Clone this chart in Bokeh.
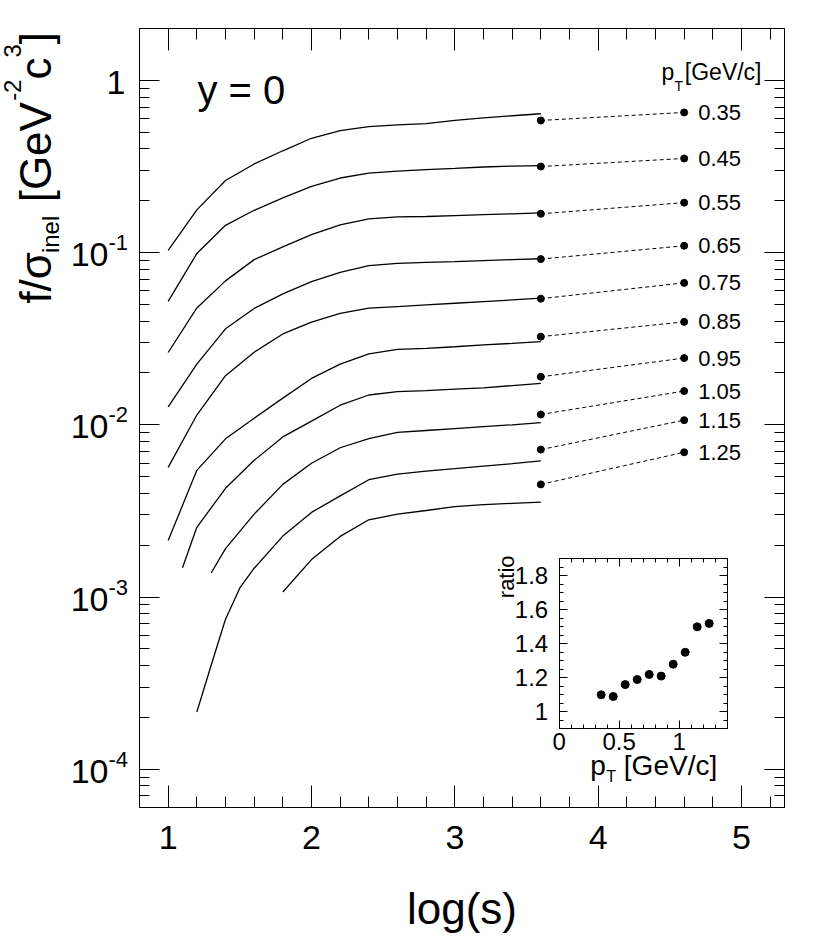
import math
from bokeh.plotting import figure
from bokeh.models import (Label, LinearAxis, LogAxis, Range1d, SingleIntervalTicker,
                          LogTicker, CustomJSTickFormatter, LinearScale)
from bokeh.embed import file_html
from bokeh.resources import INLINE

FONT = "Liberation Sans"

# ---------------- data ----------------
pt_values = [0.35, 0.45, 0.55, 0.65, 0.75, 0.85, 0.95, 1.05, 1.15, 1.25]
pt_labels = ["0.35", "0.45", "0.55", "0.65", "0.75", "0.85", "0.95", "1.05", "1.15", "1.25"]

logs_grid = [1.0, 1.2, 1.4, 1.6, 1.8, 2.0, 2.2, 2.4, 2.6, 2.8, 3.0, 3.2, 3.4, 3.6]
f_035 = [0.103, 0.177, 0.262, 0.327, 0.390, 0.461, 0.510, 0.538, 0.552, 0.560, 0.585, 0.606, 0.623, 0.640]
f_045 = [0.0521, 0.0987, 0.144, 0.176, 0.208, 0.242, 0.271, 0.289, 0.297, 0.303, 0.308, 0.314, 0.318, 0.320]
f_055 = [0.0263, 0.0477, 0.0685, 0.0910, 0.108, 0.127, 0.145, 0.157, 0.161, 0.162, 0.164, 0.166, 0.168, 0.170]
f_065 = [0.0127, 0.0225, 0.0361, 0.0474, 0.0576, 0.0679, 0.0767, 0.0839, 0.0866, 0.0877, 0.0887, 0.0898, 0.0910, 0.0921]
f_075 = [0.00566, 0.0114, 0.0193, 0.0264, 0.0337, 0.0395, 0.0443, 0.0476, 0.0486, 0.0497, 0.0508, 0.0519, 0.0531, 0.0544]
f_085 = [0.00213, 0.00544, 0.00829, 0.01093, 0.01429, 0.01859, 0.0225, 0.0258, 0.0274, 0.0278, 0.0284, 0.0291, 0.0297, 0.0304]

logs_095 = [1.1, 1.2, 1.4, 1.6, 1.8, 2.0, 2.2, 2.4, 2.6, 2.8, 3.0, 3.2, 3.4, 3.6]
f_095 = [0.00148, 0.00254, 0.00428, 0.00622, 0.00851, 0.0105, 0.0130, 0.0149, 0.0156, 0.0158, 0.0161, 0.0164, 0.0169, 0.0174]

logs_105 = [1.3, 1.4, 1.6, 1.8, 2.0, 2.2, 2.4, 2.6, 2.8, 3.0, 3.2, 3.4, 3.6]
f_105 = [0.00138, 0.00191, 0.00303, 0.00451, 0.00598, 0.00736, 0.00832, 0.00903, 0.00927, 0.00950, 0.00975, 0.0100, 0.0103]

logs_115 = [1.2, 1.3, 1.4, 1.5, 1.6, 1.8, 2.0, 2.2, 2.4, 2.6, 2.8, 3.0, 3.2, 3.4, 3.6]
f_115 = [0.000215, 0.000402, 0.000743, 0.00113, 0.00147, 0.00226, 0.00310, 0.00387, 0.00480, 0.00517, 0.00538, 0.00556, 0.00576, 0.00595, 0.00617]

logs_125 = [1.8, 2.0, 2.2, 2.4, 2.6, 2.8, 3.0, 3.2, 3.4, 3.6]
f_125 = [0.00107, 0.00165, 0.00225, 0.00281, 0.00303, 0.00318, 0.00335, 0.00344, 0.00350, 0.00356]

logs_dots_left = 3.6
logs_dots_right = 4.6
f_dots_left = [0.585, 0.316, 0.168, 0.0917, 0.0540, 0.0325, 0.0190, 0.01148, 0.00718, 0.00451]
f_dots_right = [0.651, 0.352, 0.195, 0.1095, 0.0667, 0.0396, 0.0244, 0.0157, 0.01064, 0.00693]

ratio = [1.10, 1.09, 1.16, 1.19, 1.22, 1.21, 1.28, 1.35, 1.50, 1.52]

x_ticks_main = [1, 2, 3, 4, 5]
y_ticks_main = [1, 0.1, 0.01, 0.001, 0.0001]
y_tick_exponents = [None, "-1", "-2", "-3", "-4"]

curves = [
    (logs_grid, f_035), (logs_grid, f_045), (logs_grid, f_055), (logs_grid, f_065),
    (logs_grid, f_075), (logs_grid, f_085), (logs_095, f_095), (logs_105, f_105),
    (logs_115, f_115), (logs_125, f_125),
]

# ---------------- layout constants (pixels) ----------------
W, H = 809, 941
FL, FT, FR, FB = 139, 28, 784, 807          # main plot box
IL, IT, IR, IB = 558.7, 558.3, 726.7, 728.3  # inset box
XL, XR, YB, YT = 0.8, 5.3, 6e-5, 2.0         # main box ranges
IX0, IX1, IY0, IY1 = 0.0, 1.4, 0.9, 1.9      # inset ranges

# the drawing area spans the whole canvas, the boxes are drawn with bounded axes
kx = (FR - FL) / (XR - XL)
ky = (FB - FT) / (math.log10(YT) - math.log10(YB))
x_full = Range1d(XL - FL / kx, XR + (W - FR) / kx)
y_full = Range1d(10 ** (math.log10(YB) - (H - FB) / ky), 10 ** (math.log10(YT) + FT / ky))


def lab(fig, x, y, text, size, xo=0, yo=0, align="left", angle=0,
        xr="default", yr="default"):
    fig.add_layout(Label(x=x, y=y, x_units="data", y_units="data", text=text,
                         x_offset=xo, y_offset=yo, text_font=FONT,
                         text_font_size=f"{size}px", text_align=align,
                         text_baseline="middle", angle=angle, angle_units="deg",
                         text_color="black", x_range_name=xr, y_range_name=yr))


def style_axis(ax, major, minor, show_labels=False, size=6, standoff=0):
    ax.major_tick_in = major
    ax.major_tick_out = 0
    ax.minor_tick_in = minor
    ax.minor_tick_out = 0
    ax.axis_line_color = "black"
    ax.major_tick_line_color = "black"
    ax.minor_tick_line_color = "black"
    ax.axis_label = None
    ax.major_label_standoff = standoff
    ax.major_label_text_font = FONT
    ax.major_label_text_font_size = f"{size}px"
    ax.major_label_text_color = "black" if show_labels else None


# ---------------- main figure ----------------
p = figure(width=W, height=H, x_range=x_full, y_range=y_full,
           y_axis_type="log", output_backend="svg", toolbar_location=None,
           min_border=0, min_border_left=0, min_border_right=0, min_border_top=0,
           min_border_bottom=0)
p.background_fill_color = "white"
p.border_fill_color = "white"
p.outline_line_color = None
p.xgrid.visible = False
p.ygrid.visible = False

xb = p.xaxis[0]
xb.ticker = SingleIntervalTicker(interval=1, num_minor_ticks=5)
xb.fixed_location = YB
xb.bounds = (XL, XR)
style_axis(xb, 22, 11)
yl = p.yaxis[0]
yl.ticker = LogTicker(num_minor_ticks=10)
yl.fixed_location = XL
yl.bounds = (YB, YT)
style_axis(yl, 20, 10)

top_ax = LinearAxis(ticker=SingleIntervalTicker(interval=1, num_minor_ticks=5),
                    fixed_location=YT, bounds=(XL, XR))
style_axis(top_ax, 22, 11)
p.add_layout(top_ax, "above")
right_ax = LogAxis(ticker=LogTicker(num_minor_ticks=10), fixed_location=XR, bounds=(YB, YT))
style_axis(right_ax, 20, 10)
p.add_layout(right_ax, "right")

for xs, fs in curves:
    p.line(xs, fs, line_color="black", line_width=1.3)

n = len(pt_values)
p.segment(x0=[logs_dots_left] * n, y0=f_dots_left, x1=[logs_dots_right] * n, y1=f_dots_right,
          line_color="black", line_width=1, line_dash="4 3")
p.scatter([logs_dots_left] * n, f_dots_left, size=7, color="black")
p.scatter([logs_dots_right] * n, f_dots_right, size=7, color="black")

for txt, fv in zip(pt_labels, f_dots_right):
    lab(p, logs_dots_right, fv, txt, 22, xo=14)

# tick labels
for v in x_ticks_main:
    lab(p, v, YB, str(v), 34, yo=-30, align="center")
for v, e in zip(y_ticks_main, y_tick_exponents):
    if e is None:
        lab(p, XL, v, "1", 34, xo=-14, yo=-2, align="right")
    else:
        lab(p, XL, v, "10", 34, xo=-31, yo=-2, align="right")
        lab(p, XL, v, e, 22, xo=-31, yo=10, align="left")

# axis titles
lab(p, (XL + XR) / 2, YB, "log(s)", 44, yo=-101, align="center")


def ytitle(text, size, cx, cy):
    # rotated piece of the y-axis title, given by its centre in pixels
    lab(p, XL, YB, text, size, xo=cx - FL, yo=FB - cy, align="center", angle=90)


ytitle("f/σ", 44, 34.8, 277.3)
ytitle("inel", 24, 49.7, 233.9)
ytitle("[GeV", 44, 34.8, 151.7)
ytitle("-2", 24, 11.7, 89.7)
ytitle("c", 44, 34.8, 68.0)
ytitle("3", 24, 11.7, 50.4)
ytitle("]", 44, 34.8, 37.6)

lab(p, XL, YT, "y = 0", 40, xo=58, yo=-61)
lab(p, XR, YT, "p", 23, xo=-123, yo=-43)
lab(p, XR, YT, "T", 14, xo=-110, yo=-57)
lab(p, XR, YT, "[GeV/c]", 23, xo=-23, yo=-43, align="right")

# ---------------- inset (own linear coordinate system) ----------------
sx = (IR - IL) / (IX1 - IX0)
sy = (IB - IT) / (IY1 - IY0)
p.extra_x_ranges = {"ix": Range1d(IX0 - IL / sx, IX1 + (W - IR) / sx)}
p.extra_y_ranges = {"iy": Range1d(IY0 - (H - IB) / sy, IY1 + IT / sy)}
p.extra_x_scales = {"ix": LinearScale()}
p.extra_y_scales = {"iy": LinearScale()}

fmt = CustomJSTickFormatter(code="return String(Math.round(tick*100)/100);")

ib = LinearAxis(x_range_name="ix", y_range_name="iy", fixed_location=IY0, bounds=(IX0, IX1),
                ticker=SingleIntervalTicker(interval=0.5, num_minor_ticks=5), formatter=fmt)
style_axis(ib, 8, 4, True, 24, 4)
p.add_layout(ib, "below")
it = LinearAxis(x_range_name="ix", y_range_name="iy", fixed_location=IY1, bounds=(IX0, IX1),
                ticker=SingleIntervalTicker(interval=0.5, num_minor_ticks=5))
style_axis(it, 8, 4)
p.add_layout(it, "above")
il = LinearAxis(x_range_name="ix", y_range_name="iy", fixed_location=IX0, bounds=(IY0, IY1),
                ticker=SingleIntervalTicker(interval=0.2, num_minor_ticks=4), formatter=fmt)
style_axis(il, 8, 4, True, 24, 11)
p.add_layout(il, "left")
ir = LinearAxis(x_range_name="ix", y_range_name="iy", fixed_location=IX1, bounds=(IY0, IY1),
                ticker=SingleIntervalTicker(interval=0.2, num_minor_ticks=4))
style_axis(ir, 8, 4)
p.add_layout(ir, "right")

p.scatter(pt_values, ratio, size=8, color="black", x_range_name="ix", y_range_name="iy")

lab(p, IX0, IY1, "ratio", 22, xo=-52.7, yo=-18, align="center", angle=90, xr="ix", yr="iy")
lab(p, IX0, IY0, "p", 28, xo=31, yo=-37, xr="ix", yr="iy")
lab(p, IX0, IY0, "T", 16, xo=47, yo=-47.5, xr="ix", yr="iy")
lab(p, IX0, IY0, "[GeV/c]", 28, xo=158, yo=-37, align="right", xr="ix", yr="iy")

open("out.html", "w").write(file_html(p, INLINE))
